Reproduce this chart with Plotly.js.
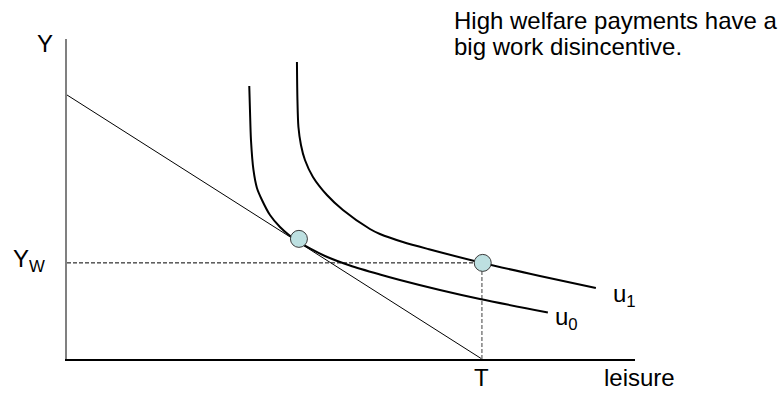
<!DOCTYPE html>
<html>
<head>
<meta charset="utf-8">
<script src="https://cdn.plot.ly/plotly-3.0.1.min.js"></script>
<style>html,body{margin:0;padding:0;background:#fff;}#chart{width:782px;height:393px;}</style>
</head>
<body>
<div id="chart"></div>
<script>
// Leisure (x) and income (y) in chart units: T = 100, budget intercept = 100
var budgetX = [0, 100];
var budgetY = [100, 0];
var T = 100;
var Yw = 36.4;

var u0X = [43.93, 44.10, 44.34, 44.94, 45.78, 46.99, 48.92, 51.33, 53.49, 55.66, 58.55, 62.17, 68.19, 75.42, 80.24, 89.88, 99.52, 115.90];
var u0Y = [103.41, 94.32, 82.95, 71.59, 64.77, 60.23, 54.55, 50.00, 46.97, 44.58, 41.86, 39.02, 35.42, 32.01, 29.92, 26.14, 22.73, 17.61];

var u1X = [55.42, 55.54, 55.78, 56.39, 57.35, 59.28, 62.65, 66.51, 73.01, 75.42, 80.96, 87.47, 100.17, 113.98, 127.47];
var u1Y = [112.50, 98.11, 87.88, 81.06, 75.38, 68.94, 62.12, 56.44, 49.24, 47.35, 44.32, 41.48, 36.36, 31.44, 26.89];

var choiceX = [55.9, 100.2];
var choiceY = [45.5, 36.4];

var xMax = 136.9, yMax = 121.2;
var FONT = 'Liberation Sans, Arial, sans-serif';

var traces = [
  {x: budgetX, y: budgetY, mode: 'lines', line: {color: '#000', width: 1}, hoverinfo: 'skip'},
  {x: [0, T], y: [Yw, Yw], mode: 'lines', line: {color: '#000', width: 1, dash: '4px,2px'}, hoverinfo: 'skip'},
  {x: [T, T], y: [0, Yw], mode: 'lines', line: {color: '#808080', width: 1.5, dash: '4px,2px'}, hoverinfo: 'skip'},
  {x: u0X, y: u0Y, mode: 'lines', line: {color: '#000', width: 2, shape: 'spline', smoothing: 0.8}, hoverinfo: 'skip'},
  {x: u1X, y: u1Y, mode: 'lines', line: {color: '#000', width: 2, shape: 'spline', smoothing: 0.8}, hoverinfo: 'skip'},
  {x: choiceX, y: choiceY, mode: 'markers', marker: {size: 17, color: '#bde0e1', line: {color: '#3a3a3a', width: 1}}, hoverinfo: 'skip', cliponaxis: false}
];

function ann(text, x, y, xanchor) {
  return {text: text, x: x, y: y, xref: 'paper', yref: 'paper', showarrow: false,
          xanchor: xanchor || 'center', yanchor: 'middle',
          font: {family: FONT, size: 24, color: '#000'}};
}

var layout = {
  width: 782, height: 393,
  margin: {l: 67, r: 147, t: 39, b: 34},
  paper_bgcolor: '#fff', plot_bgcolor: '#fff',
  showlegend: false,
  xaxis: {range: [0, xMax], showgrid: false, zeroline: false, showticklabels: false, ticks: '',
          showline: true, linecolor: '#000', linewidth: 1.5, fixedrange: true},
  yaxis: {range: [0, yMax], showgrid: false, zeroline: false, showticklabels: false, ticks: '',
          showline: true, linecolor: '#808080', linewidth: 2, fixedrange: true},
  annotations: [
    ann('Y', -0.0396, 0.986),
    ann('Y<sub>W</sub>', -0.0669, 0.309),
    ann('T', 0.7306, -0.059),
    ann('leisure', 1.008, -0.059),
    ann('u<sub>1</sub>', 0.981, 0.198),
    ann('u<sub>0</sub>', 0.880, 0.127),
    ann('High welfare payments have a', 0.678, 1.059, 'left'),
    ann('big work disincentive.', 0.678, 0.977, 'left')
  ]
};

Plotly.newPlot('chart', traces, layout, {displayModeBar: false, staticPlot: true});
</script>
</body>
</html>
